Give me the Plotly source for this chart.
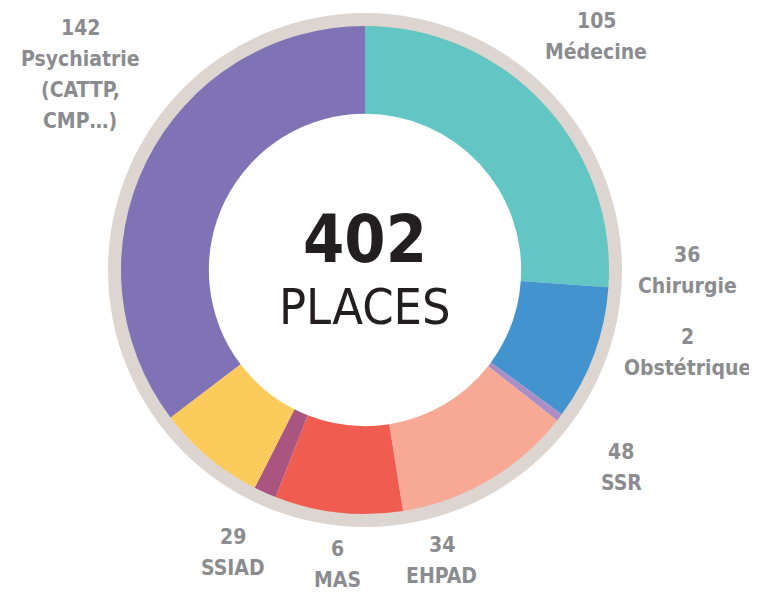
import plotly.graph_objects as go

# Figure size (browser body adds an 8px margin, so the figure is drawn 8px in)
OFF = 8
W, H = 757 - OFF, 593 - OFF

categories = ["Médecine", "Chirurgie", "Obstétrique", "SSR", "EHPAD", "MAS", "SSIAD", "Psychiatrie"]
values = [105, 36, 2, 48, 34, 6, 29, 142]
label_lines = [["105", "Médecine"], ["36", "Chirurgie"], ["2", "Obstétrique"], ["48", "SSR"],
               ["34", "EHPAD"], ["6", "MAS"], ["29", "SSIAD"], ["142", "Psychiatrie", "(CATTP,", "CMP…)"]]
colors = ["#63C6C4", "#4393CE", "#A98FC6", "#F7A995", "#F05C50", "#AA5580", "#FDCB5C", "#7F72B5"]
total_text = "402"
unit_text = "PLACES"

# label positions on screen: (centre x, y of first line), line pitch
label_pos = [(596, 21), (687, 255), (687, 337), (621, 452), (442, 545), (337, 549), (233, 537), (80, 28)]
PITCH = 31

cx, cy = 365 - OFF, 270 - OFF
r_grey, r_col = 257, 244

def dom(r):
    return dict(x=[(cx - r) / W, (cx + r) / W], y=[(H - cy - r) / H, (H - cy + r) / H])

def px(x):
    return (x - OFF) / W

def py(y):
    return 1 - (y - OFF) / H

fig = go.Figure()
fig.add_trace(go.Pie(values=[1], labels=["ring"], domain=dom(r_grey), hole=0.9,
                     marker=dict(colors=["#DDD5CF"], line=dict(width=0)),
                     textinfo="none", hoverinfo="skip", showlegend=False, sort=False))
fig.add_trace(go.Pie(values=values, labels=categories, domain=dom(r_col), hole=0.64,
                     marker=dict(colors=colors, line=dict(width=0)),
                     direction="clockwise", rotation=0, sort=False,
                     textinfo="none", showlegend=False))

FAM = "DejaVu Sans Condensed, DejaVu Sans, sans-serif"
font_lab = dict(family=FAM, size=21, color="#8B8C90")
anns = []
for lines, (x0, y0) in zip(label_lines, label_pos):
    for i, t in enumerate(lines):
        anns.append(dict(text="<b>" + t + "</b>", x=px(x0), y=py(y0 + i * PITCH),
                         xref="paper", yref="paper", xanchor="center", yanchor="middle",
                         showarrow=False, font=font_lab, align="center"))
anns.append(dict(text="<b>" + total_text + "</b>", x=px(cx + OFF), y=py(240), xref="paper", yref="paper",
                 xanchor="center", yanchor="middle", showarrow=False,
                 font=dict(family=FAM, size=66, color="#231F20")))
anns.append(dict(text=unit_text, x=px(cx + OFF), y=py(307), xref="paper", yref="paper",
                 xanchor="center", yanchor="middle", showarrow=False,
                 font=dict(family=FAM, size=50, color="#231F20")))

fig.update_layout(width=W, height=H, margin=dict(l=0, r=0, t=0, b=0),
                  paper_bgcolor="white", plot_bgcolor="white", annotations=anns)
fig.write_html("out.html")
